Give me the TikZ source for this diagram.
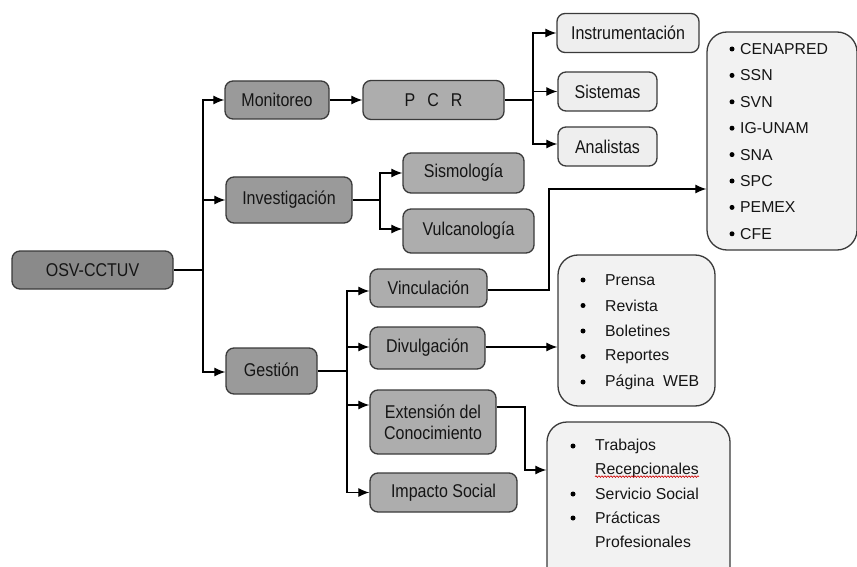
\documentclass[tikz,border=0pt]{standalone}
\usepackage{fontspec}
\setmainfont{Liberation Sans}[FakeStretch=0.865]
\newfontfamily\listfont{Liberation Sans}
\usetikzlibrary{arrows.meta,decorations.pathmorphing}
\definecolor{cRoot}{HTML}{8A8A8A}
\definecolor{cMain}{HTML}{9A9A9A}
\definecolor{cSub}{HTML}{ADADAD}
\definecolor{cLight}{HTML}{EEEEEE}
\definecolor{cList}{HTML}{F2F2F2}
\definecolor{cEdge}{HTML}{3A3A3A}
\definecolor{cText}{HTML}{151515}
\tikzset{
  box/.style={draw=cEdge, line width=1.3pt, rounded corners=8pt, inner sep=0pt, text=cText,
    font=\fontsize{18.5}{21}\selectfont},
  rootbox/.style={box, fill=cRoot},
  mainbox/.style={box, fill=cMain},
  subbox/.style={box, fill=cSub},
  lightbox/.style={box, fill=cLight},
  listbox/.style={draw=cEdge, line width=1.3pt, rounded corners=20pt, fill=cList},
  item/.style={anchor=west, inner sep=0pt, text=cText, font=\listfont\fontsize{15.8}{18}\selectfont},
  dot/.style={circle, fill=black, inner sep=0pt, minimum size=5pt},
  conn/.style={line width=1.2pt, -{Latex[length=11pt,width=9pt]}},
  plain/.style={line width=1.2pt}
}
\begin{document}
\begin{tikzpicture}[x=1pt,y=-1pt]
\useasboundingbox (0,0) rectangle (857,567);
% boxes
\node[rootbox, minimum width=161pt, minimum height=38pt] (osv) at (92.5,270) {OSV-CCTUV};
\node[mainbox, minimum width=104pt, minimum height=38pt] (mon) at (277,100) {Monitoreo};
\node[mainbox, minimum width=126pt, minimum height=46pt] (inv) at (289,200) {\raisebox{2pt}{Investigación}};
\node[mainbox, minimum width=91pt, minimum height=46pt] (ges) at (271.5,371) {\raisebox{3pt}{Gestión}};
\node[subbox, minimum width=141pt, minimum height=39pt] (pcr) at (433.5,100) {P\hspace{12pt}C\hspace{12pt}R};
\node[lightbox, minimum width=142pt, minimum height=39pt] (ins) at (628,33) {Instrumentación};
\node[lightbox, minimum width=99pt, minimum height=39pt] (sis) at (607.5,91.5) {Sistemas};
\node[lightbox, minimum width=99pt, minimum height=39pt] (ana) at (607.5,146.5) {Analistas};
\node[subbox, minimum width=121pt, minimum height=40pt] (smo) at (463.5,173) {Sismología};
\node[subbox, minimum width=131pt, minimum height=44pt] (vul) at (468.5,231) {\raisebox{2pt}{Vulcanología}};
\node[subbox, minimum width=117pt, minimum height=38pt] (vin) at (428.5,288) {\raisebox{1pt}{Vinculación}};
\node[subbox, minimum width=115pt, minimum height=42pt] (div) at (427.5,348) {\raisebox{2pt}{Divulgación}};
\node[subbox, minimum width=126pt, minimum height=64pt, align=center] (ext) at (433,422) {Extensión del\\Conocimiento};
\node[subbox, minimum width=147pt, minimum height=39pt] (imp) at (443.5,492.5) {Impacto Social};
% list boxes
\node[listbox, minimum width=150pt, minimum height=218pt] (l1) at (782,141) {};
\node[listbox, minimum width=157pt, minimum height=151pt] (l2) at (636.5,330.5) {};
\node[listbox, minimum width=183pt, minimum height=165pt] (l3) at (638.5,504.5) {};
% list 1 items
\foreach \t [count=\i from 0] in {CENAPRED,SSN,SVN,IG-UNAM,SNA,SPC,PEMEX,CFE}{
  \node[dot] (b1\i) at (732,49+26.4*\i) {};
  \node[item] (t1\i) at (740,49+26.4*\i) {\t};
}
% list 2 items
\foreach \t [count=\i from 0] in {Prensa,Revista,Boletines,Reportes,Página\ \ WEB}{
  \node[dot] (b2\i) at (583,280+25.5*\i) {};
  \node[item] (t2\i) at (605,280+25.5*\i) {\t};
}
% list 3 items
\node[dot] (b30) at (573,446) {};
\node[item] (t30) at (595,446) {Trabajos};
\node[item] (t31) at (595,470) {Recepcionales};
\node[dot] (b32) at (573,494) {};
\node[item] (t32) at (595,494) {Servicio Social};
\node[dot] (b34) at (573,518) {};
\node[item] (t34) at (595,518) {Prácticas};
\node[item] (t35) at (595,542) {Profesionales};
\draw[red!80!black, line width=0.6pt, decorate, decoration={snake, amplitude=0.8pt, segment length=3pt}]
  ([yshift=-2.5pt]t31.base west) -- ([yshift=-2.5pt]t31.base east);
% trunk
\coordinate (j0) at (203,270);
\draw[plain] (osv.east) -- (j0);
\draw[conn] (j0) |- (mon.west);
\draw[conn] (j0) |- (inv.west);
\draw[conn] (j0) |- (ges.west |- 0,372);
% monitoreo
\draw[conn] (mon.east) -- (pcr.west);
\coordinate (j1) at (533,100);
\draw[plain] (pcr.east) -- (j1);
\draw[conn] (j1) |- (ins.west);
\draw[conn] (j1) |- (sis.west);
\draw[conn] (j1) |- (ana.west |- 0,144);
% investigacion
\coordinate (j2) at (380,200);
\draw[plain] (inv.east) -- (j2);
\draw[conn] (j2) |- (smo.west);
\draw[conn] (j2) |- (vul.west |- 0,229);
% gestion
\coordinate (j3) at (347,371);
\draw[plain] (ges.east) -- (j3);
\draw[conn] (j3) |- (vin.west |- 0,291);
\draw[conn] (j3) |- (div.west |- 0,347);
\draw[conn] (j3) |- (ext.west |- 0,405);
\draw[conn] (j3) |- (imp.west);
% outputs
\coordinate (v1) at (549,290);
\draw[conn] (vin.east |- v1) -- (v1) |- (l1.west |- 0,189);
\draw[conn] (div.east |- 0,347) -- (l2.west |- 0,347);
\coordinate (e1) at (525,407);
\draw[conn] (ext.east |- e1) -- (e1) |- (l3.west |- 0,470);
\end{tikzpicture}
\end{document}
